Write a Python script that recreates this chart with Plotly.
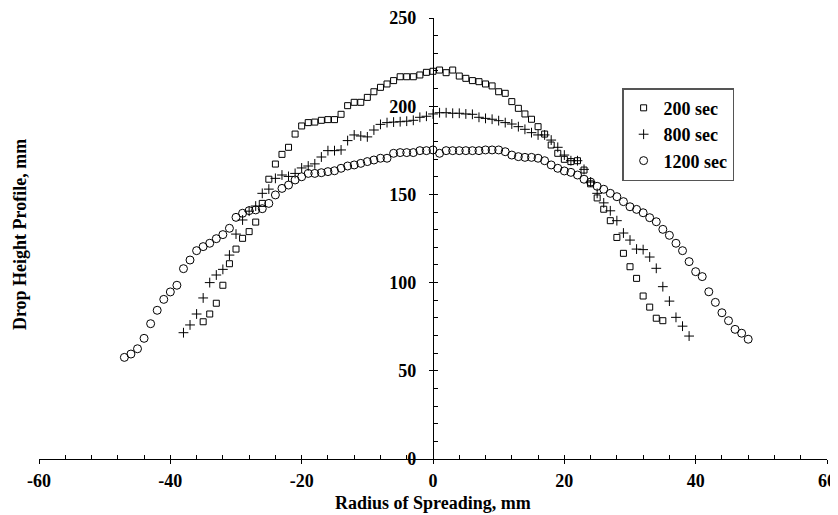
import plotly.graph_objects as go

# ---- data ----
x_200 = [-35, -34, -33, -32, -31, -30, -29, -28, -27, -26, -25, -24, -23, -22, -21, -20,
         -19, -18, -17, -16, -15, -14, -13, -12, -11, -10, -9, -8, -7, -6, -5, -4, -3, -2,
         -1, 0, 1, 2, 3, 4, 5, 6, 7, 8, 9, 10, 11, 12, 13, 14, 15, 16, 17, 18, 19, 20, 21,
         22, 23, 24, 25, 26, 27, 28, 29, 30, 31, 32, 33, 34, 35]
y_200 = [77.8, 82.2, 88.3, 98.5, 110.7, 119.0, 125.1, 128.9, 134.3, 144.9, 158.6, 167.2,
         172.7, 176.7, 184.2, 188.8, 190.7, 191.0, 192.0, 192.4, 192.4, 195.4, 200.3, 202.2,
         202.2, 205.0, 208.2, 210.7, 212.6, 214.5, 216.7, 216.7, 216.7, 217.7, 219.2, 219.8,
         220.5, 219.0, 220.5, 217.1, 215.8, 214.5, 213.9, 212.6, 211.5, 208.2, 207.3, 202.6,
         198.8, 195.6, 192.6, 188.4, 184.2, 178.0, 173.3, 169.9, 168.6, 169.1, 163.8, 156.0,
         148.0, 141.6, 135.1, 125.6, 116.6, 109.0, 102.4, 92.4, 86.1, 79.8, 78.4]

x_800 = [-38, -37, -36, -35, -34, -33, -32, -31, -30, -29, -28, -27, -26, -25, -24, -23,
         -22, -21, -20, -19, -18, -17, -16, -15, -14, -13, -12, -11, -10, -9, -8, -7, -6,
         -5, -4, -3, -2, -1, 0, 1, 2, 3, 4, 5, 6, 7, 8, 9, 10, 11, 12, 13, 14, 15, 16, 17,
         18, 19, 20, 21, 22, 23, 24, 25, 26, 27, 28, 29, 30, 31, 32, 33, 34, 35, 36, 37, 38, 39]
y_800 = [71.6, 76.0, 82.2, 91.3, 100.0, 104.3, 107.5, 115.6, 127.5, 135.5, 140.5, 143.4,
         150.6, 153.0, 159.1, 161.0, 160.2, 161.9, 165.0, 166.1, 167.3, 171.2, 174.8, 174.8,
         175.2, 180.5, 183.7, 183.1, 182.6, 186.5, 189.7, 190.7, 191.0, 191.2, 191.5, 192.0,
         193.7, 194.3, 195.6, 196.3, 196.3, 196.0, 196.0, 195.6, 195.4, 193.7, 193.1, 192.6,
         191.8, 190.7, 189.9, 188.4, 186.9, 185.0, 183.7, 183.7, 180.8, 176.7, 172.3, 169.1,
         169.1, 164.2, 157.0, 150.6, 145.2, 140.7, 135.1, 128.1, 124.1, 119.0, 118.7, 114.5,
         108.1, 97.7, 89.5, 80.3, 75.3, 69.7]

x_1200 = [-47, -46, -45, -44, -43, -42, -41, -40, -39, -38, -37, -36, -35, -34, -33, -32,
          -31, -30, -29, -28, -27, -26, -25, -24, -23, -22, -21, -20, -19, -18, -17, -16,
          -15, -14, -13, -12, -11, -10, -9, -8, -7, -6, -5, -4, -3, -2, -1, 0, 1, 2, 3, 4,
          5, 6, 7, 8, 9, 10, 11, 12, 13, 14, 15, 16, 17, 18, 19, 20, 21, 22, 23, 24, 25, 26,
          27, 28, 29, 30, 31, 32, 33, 34, 35, 36, 37, 38, 39, 40, 41, 42, 43, 44, 45, 46, 47, 48]
y_1200 = [57.6, 59.5, 62.5, 68.4, 76.7, 84.3, 90.5, 94.7, 98.5, 107.9, 112.8, 118.1, 120.4,
          122.3, 124.9, 127.2, 130.8, 137.0, 139.3, 140.8, 141.2, 141.9, 144.9, 149.7, 153.4,
          155.3, 158.2, 160.0, 161.9, 161.9, 162.3, 162.9, 163.4, 164.8, 166.1, 166.7, 167.6,
          168.6, 169.5, 170.5, 170.5, 173.3, 173.7, 173.7, 173.7, 174.8, 174.8, 175.2, 173.3,
          174.8, 174.8, 174.8, 174.8, 174.8, 174.8, 175.2, 175.2, 175.2, 174.2, 172.3, 171.4,
          171.0, 171.0, 170.5, 169.1, 166.7, 164.8, 163.3, 162.5, 161.0, 158.6, 157.0, 154.6,
          152.9, 150.6, 148.7, 145.9, 143.0, 141.5, 139.6, 136.8, 134.5, 130.2, 126.8, 122.3,
          118.1, 111.9, 106.2, 103.4, 94.8, 88.8, 82.9, 78.4, 73.5, 71.3, 67.9]

series_names = ["200 sec", "800 sec", "1200 sec"]
x_ticks = [-60, -40, -20, 0, 20, 40, 60]
x_ticktext = ["-60", "-40", "-20", "0", "20", "40", "60"]
y_ticks = [0, 50, 100, 150, 200, 250]
x_title = "Radius of Spreading, mm"
y_title = "Drop Height Profile, mm"

FONT = "Liberation Serif, Times New Roman, serif"

fig = go.Figure()
fig.add_trace(go.Scatter(x=x_200, y=y_200, mode="markers", name=series_names[0],
                         marker=dict(symbol="square-open", size=6, color="black",
                                     line=dict(width=1, color="black"))))
fig.add_trace(go.Scatter(x=x_800, y=y_800, mode="markers", name=series_names[1],
                         marker=dict(symbol="cross-thin-open", size=7, color="black",
                                     line=dict(width=1, color="black"))))
fig.add_trace(go.Scatter(x=x_1200, y=y_1200, mode="markers", name=series_names[2],
                         marker=dict(symbol="circle-open", size=8, color="black",
                                     line=dict(width=1, color="black"))))
# helper (empty) trace so the overlay axes carrying the outer half of major ticks are drawn
fig.add_trace(go.Scatter(x=[], y=[], xaxis="x2", yaxis="y2", showlegend=False,
                         hoverinfo="skip"))

# the page body adds an 8px offset, so the figure is 830x507 to fill the 838x515 window
fig.update_layout(
    width=830, height=507,
    margin=dict(l=31, r=11, t=10, b=56, autoexpand=False),
    paper_bgcolor="white", plot_bgcolor="white",
    font=dict(family=FONT, size=18, color="black", weight="bold"),
    showlegend=True,
    legend=dict(x=0.74, y=0.841, xanchor="left", yanchor="top",
                bordercolor="#555555", borderwidth=1.5, bgcolor="white",
                font=dict(family=FONT, size=18, color="black", weight="bold"),
                itemwidth=30, tracegroupgap=0),
    xaxis=dict(range=[-60, 60], tickvals=x_ticks, ticktext=x_ticktext, ticks="inside",
               ticklen=4, tickwidth=1, tickcolor="black", showline=True,
               linecolor="black", linewidth=1.3, showgrid=False, zeroline=False,
               anchor="y", ticklabelstandoff=5, automargin=False,
               minor=dict(dtick=4, tick0=0, ticks="inside", ticklen=4, tickwidth=1,
                          tickcolor="black", showgrid=False)),
    yaxis=dict(range=[0, 250], tickvals=y_ticks, ticks="inside", ticklen=4,
               tickwidth=1, tickcolor="black", showline=True, linecolor="black",
               linewidth=1.3, showgrid=False, zeroline=False, anchor="free",
               position=0.5, ticklabelstandoff=13, automargin=False,
               minor=dict(dtick=10, tick0=0, ticks="inside", ticklen=4, tickwidth=1,
                          tickcolor="black", showgrid=False)),
    xaxis2=dict(range=[-60, 60], overlaying="x", anchor="y", tickvals=x_ticks,
                ticks="outside", ticklen=4, tickwidth=1, tickcolor="black",
                showticklabels=False, showline=False, showgrid=False, zeroline=False,
                automargin=False),
    yaxis2=dict(range=[0, 250], overlaying="y", anchor="free", position=0.5,
                tickvals=y_ticks, ticks="outside", ticklen=4, tickwidth=1,
                tickcolor="black", showticklabels=False, showline=False,
                showgrid=False, zeroline=False, automargin=False),
    annotations=[
        dict(text=y_title, textangle=-90, xref="paper", yref="paper",
             x=-0.024, y=0.508, xanchor="center", yanchor="middle", showarrow=False,
             font=dict(family=FONT, size=18, weight="bold")),
        dict(text=x_title, xref="paper", yref="paper", x=0.5, y=-0.1,
             xanchor="center", yanchor="middle", showarrow=False,
             font=dict(family=FONT, size=18, weight="bold")),
    ],
)

fig.write_html("out.html")
